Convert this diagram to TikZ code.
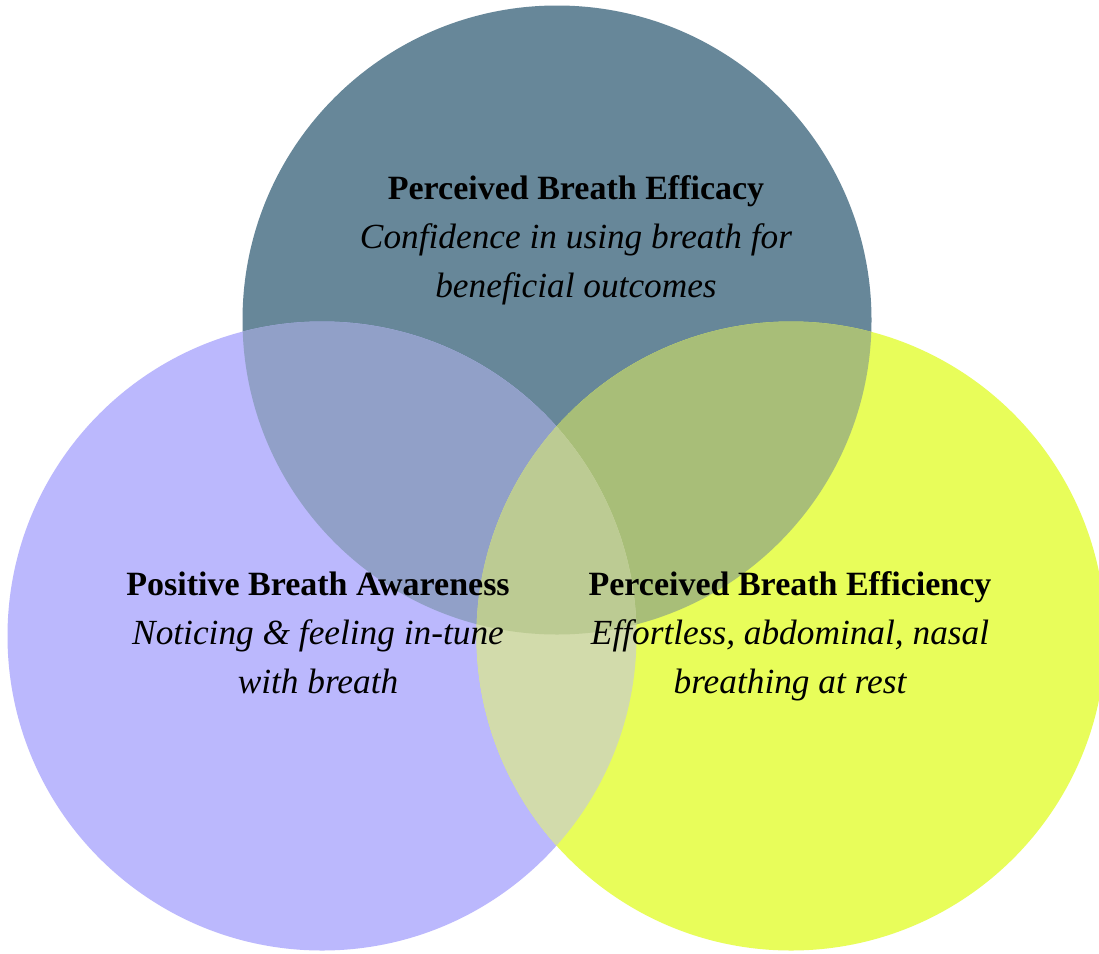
\documentclass[tikz,border=0pt]{standalone}
\usepackage{fontspec}
\setmainfont{Liberation Serif}
\definecolor{effcol}{HTML}{678799}
\definecolor{awarecol}{HTML}{BBB8FD}
\definecolor{efficol}{HTML}{E8FD5A}
\definecolor{effaware}{HTML}{91A0C8}
\definecolor{effeffi}{HTML}{A8BE78}
\definecolor{awareeffi}{HTML}{D2DBAB}
\definecolor{allthree}{HTML}{BCCB93}
\newcommand{\headline}[1]{{\fontsize{34}{49}\selectfont\bfseries #1}}
\newcommand{\subline}[1]{{\fontsize{35.3}{49}\selectfont\itshape #1}}
\begin{document}
\begin{tikzpicture}[x=1pt,y=-1pt,
  label/.style={align=center,inner sep=0pt,anchor=base,
    font=\fontsize{34}{49}\selectfont}]
\clip (0,0) rectangle (1099,953);
\fill[white] (0,0) rectangle (1099,953);
% circle centres and radius
\coordinate (ctop) at (557,320);
\coordinate (cleft) at (322,636);
\coordinate (cright) at (791,636);
\def\rr{314.5pt}
% the three sets
\fill[effcol] (ctop) circle[radius=\rr];
\fill[awarecol] (cleft) circle[radius=\rr];
\fill[efficol] (cright) circle[radius=\rr];
% pairwise overlaps
\begin{scope}
  \clip (ctop) circle[radius=\rr];
  \fill[effaware] (cleft) circle[radius=\rr];
  \fill[effeffi] (cright) circle[radius=\rr];
\end{scope}
\begin{scope}
  \clip (cleft) circle[radius=\rr];
  \fill[awareeffi] (cright) circle[radius=\rr];
\end{scope}
% triple overlap
\begin{scope}
  \clip (ctop) circle[radius=\rr];
  \clip (cleft) circle[radius=\rr];
  \fill[allthree] (cright) circle[radius=\rr];
\end{scope}
% labels (anchored at the baseline of their last line)
\node[label] (efficacy) at (576,297)
  {\headline{Perceived Breath Efficacy}\\
   \subline{Confidence in using breath for}\\
   \subline{beneficial outcomes}};
\node[label] (awareness) at (318,693)
  {\headline{Positive Breath Awareness}\\
   \subline{Noticing \& feeling in-tune}\\
   \subline{with breath}};
\node[label] (efficiency) at (790,693)
  {\headline{Perceived Breath Efficiency}\\
   \subline{Effortless, abdominal, nasal}\\
   \subline{breathing at rest}};
\end{tikzpicture}
\end{document}
